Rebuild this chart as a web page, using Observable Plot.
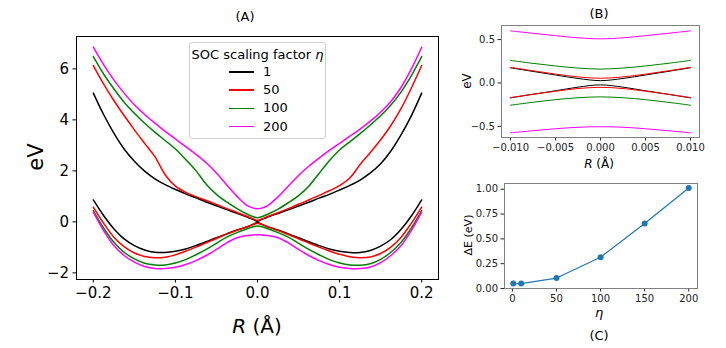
<!DOCTYPE html>
<html>
<head>
<meta charset="utf-8">
<script src="https://cdn.jsdelivr.net/npm/d3@7"></script>
<script src="https://cdn.jsdelivr.net/npm/@observablehq/plot@0.6"></script>
<style>
  html, body { margin: 0; padding: 0; background: #fff; }
  #wrap { position: relative; width: 726px; height: 348px; background: #fff; font-family: "DejaVu Sans", sans-serif; color: #000; overflow: hidden; }
  .lbl { position: absolute; white-space: nowrap; transform: translate(-50%, -50%); line-height: 1; }
  .rot { transform: translate(-50%, -50%) rotate(-90deg); }
</style>
</head>
<body>
<div id="wrap"></div>
<script>
// ---------- Panel A data (R in Å, energies in eV) ----------
const R_A = [-0.2, -0.1875, -0.175, -0.1625, -0.15, -0.1375, -0.125, -0.1125, -0.1, -0.0875, -0.075, -0.0625, -0.05, -0.0375, -0.025, -0.0125, -0.005, 0,
             0.005, 0.0125, 0.025, 0.0375, 0.05, 0.0625, 0.075, 0.0875, 0.1, 0.1125, 0.125, 0.1375, 0.15, 0.1625, 0.175, 0.1875, 0.2];
const upA_1   = [5.05, 4.21, 3.48, 2.86, 2.38, 1.99, 1.69, 1.46, 1.27, 1.10, 0.94, 0.78, 0.63, 0.48, 0.34, 0.19, 0.09, 0.027,
                 0.09, 0.19, 0.33, 0.47, 0.62, 0.77, 0.93, 1.08, 1.25, 1.43, 1.64, 1.92, 2.28, 2.78, 3.42, 4.17, 5.05];
const upA_50  = [6.13, 5.41, 4.76, 4.17, 3.61, 3.08, 2.56, 1.85, 1.40, 1.16, 0.99, 0.84, 0.68, 0.52, 0.37, 0.21, 0.11, 0.054,
                 0.11, 0.21, 0.36, 0.52, 0.69, 0.86, 1.04, 1.22, 1.42, 1.72, 2.25, 2.72, 3.22, 3.78, 4.45, 5.25, 6.13];
const upA_100 = [6.48, 5.80, 5.22, 4.69, 4.26, 3.87, 3.52, 3.19, 2.86, 2.45, 2.01, 1.48, 1.08, 0.78, 0.52, 0.30, 0.20, 0.16,
                 0.20, 0.30, 0.50, 0.75, 1.03, 1.40, 1.90, 2.40, 2.82, 3.14, 3.46, 3.80, 4.16, 4.58, 5.10, 5.74, 6.48];
const upA_200 = [6.85, 6.17, 5.57, 5.05, 4.59, 4.21, 3.87, 3.55, 3.25, 2.95, 2.65, 2.32, 1.92, 1.45, 1.00, 0.64, 0.54, 0.51,
                 0.54, 0.64, 0.98, 1.40, 1.82, 2.18, 2.50, 2.80, 3.08, 3.36, 3.64, 3.95, 4.30, 4.72, 5.28, 6.00, 6.85];
const loA_1   = [0.86, 0.25, -0.27, -0.67, -0.93, -1.10, -1.19, -1.20, -1.15, -1.06, -0.93, -0.78, -0.62, -0.47, -0.32, -0.19, -0.09, -0.027,
                 -0.09, -0.19, -0.32, -0.47, -0.62, -0.78, -0.93, -1.06, -1.15, -1.20, -1.20, -1.12, -0.95, -0.69, -0.29, 0.23, 0.86];
const loA_50  = [0.58, -0.05, -0.60, -0.97, -1.22, -1.36, -1.41, -1.39, -1.29, -1.15, -0.99, -0.82, -0.65, -0.48, -0.33, -0.19, -0.10, -0.054,
                 -0.10, -0.19, -0.34, -0.50, -0.66, -0.83, -0.99, -1.14, -1.27, -1.37, -1.41, -1.38, -1.24, -0.99, -0.60, -0.05, 0.58];
const loA_100 = [0.44, -0.24, -0.80, -1.19, -1.45, -1.62, -1.69, -1.69, -1.61, -1.48, -1.29, -1.08, -0.84, -0.60, -0.42, -0.27, -0.19, -0.16,
                 -0.19, -0.27, -0.42, -0.60, -0.84, -1.08, -1.29, -1.48, -1.61, -1.69, -1.70, -1.64, -1.47, -1.19, -0.80, -0.24, 0.44];
const loA_200 = [0.38, -0.34, -0.93, -1.32, -1.58, -1.75, -1.83, -1.83, -1.78, -1.67, -1.52, -1.32, -1.08, -0.82, -0.62, -0.53, -0.51, -0.51,
                 -0.51, -0.53, -0.62, -0.82, -1.08, -1.32, -1.52, -1.67, -1.78, -1.83, -1.83, -1.77, -1.60, -1.32, -0.93, -0.34, 0.38];

// ---------- Panel B data (zoom near R = 0) ----------
const R_B = [-0.01, -0.0075, -0.005, -0.0025, 0, 0.0025, 0.005, 0.0075, 0.01];
const upB_1   = [0.175, 0.133, 0.092, 0.052, 0.027, 0.052, 0.092, 0.133, 0.175];
const upB_50  = [0.180, 0.140, 0.102, 0.070, 0.054, 0.070, 0.102, 0.140, 0.180];
const upB_100 = [0.260, 0.226, 0.196, 0.172, 0.160, 0.172, 0.196, 0.226, 0.260];
const upB_200 = [0.600, 0.572, 0.545, 0.520, 0.508, 0.520, 0.545, 0.572, 0.600];
const loB_1   = [-0.172, -0.130, -0.090, -0.048, -0.022, -0.048, -0.090, -0.130, -0.172];
const loB_50  = [-0.168, -0.130, -0.095, -0.064, -0.050, -0.064, -0.095, -0.130, -0.168];
const loB_100 = [-0.256, -0.222, -0.192, -0.170, -0.160, -0.170, -0.192, -0.222, -0.256];
const loB_200 = [-0.574, -0.550, -0.527, -0.510, -0.504, -0.510, -0.527, -0.550, -0.574];

// ---------- Panel C data ----------
const etaC = [1, 10, 50, 100, 150, 200];
const dE_C = [0.05, 0.05, 0.105, 0.315, 0.655, 1.012];

// ---------- series / ticks ----------
const etas = [1, 50, 100, 200];
const palette = ["#000000", "#ff0000", "#008000", "#ff00ff"];
const ticksAx = [-0.2, -0.1, 0, 0.1, 0.2];
const ticksAy = [-2, 0, 2, 4, 6];
const ticksBx = [-0.01, -0.005, 0, 0.005, 0.01];
const ticksBy = [-0.5, 0, 0.5];
const ticksCx = [0, 50, 100, 150, 200];
const ticksCy = [0, 0.25, 0.5, 0.75, 1.0];

function rows(Rs, ups, los) {
  const out = [];
  etas.forEach((eta, i) => {
    ups[i].forEach((e, j) => out.push({R: Rs[j], E: e, eta, key: "u" + eta}));
    los[i].forEach((e, j) => out.push({R: Rs[j], E: e, eta, key: "l" + eta}));
  });
  return out;
}
const dataA = rows(R_A, [upA_1, upA_50, upA_100, upA_200], [loA_1, loA_50, loA_100, loA_200]);
const dataB = rows(R_B, [upB_1, upB_50, upB_100, upB_200], [loB_1, loB_50, loB_100, loB_200]);
const dataC = etaC.map((e, i) => ({eta: e, dE: dE_C[i]}));

const wrap = document.getElementById("wrap");
function place(node, left, top) {
  const d = document.createElement("div");
  d.style.position = "absolute";
  d.style.left = left + "px";
  d.style.top = top + "px";
  d.append(node);
  wrap.append(d);
}
function label(html, x, y, size, rotate) {
  const d = document.createElement("div");
  d.className = "lbl" + (rotate ? " rot" : "");
  d.style.left = x + "px";
  d.style.top = y + "px";
  d.style.fontSize = size + "px";
  d.innerHTML = html;
  wrap.append(d);
}
const colorScale = {domain: etas, range: palette};

// ---------- Panel A ----------
const plotA = Plot.plot({
  width: 460, height: 348,
  marginLeft: 76, marginRight: 22, marginTop: 36, marginBottom: 69,
  style: {fontFamily: "DejaVu Sans", fontSize: "15px", color: "#000", background: "transparent", overflow: "visible"},
  x: {domain: [-0.2205, 0.2205], ticks: ticksAx, tickFormat: d3.format(".1f"), tickSize: 3.5, tickPadding: 4, label: null},
  y: {domain: [-2.26, 7.27], ticks: ticksAy, tickFormat: d3.format("d"), tickSize: 3.5, tickPadding: 4, label: null},
  color: colorScale,
  marks: [
    Plot.line(dataA, {x: "R", y: "E", z: "key", stroke: "eta", strokeWidth: 1.5, curve: "catmull-rom"}),
    Plot.frame({stroke: "#000", strokeWidth: 1})
  ]
});
place(plotA, 0, 0);

// ---------- Panel B ----------
const plotB = Plot.plot({
  width: 286, height: 170,
  marginLeft: 61, marginRight: 27, marginTop: 25, marginBottom: 33,
  style: {fontFamily: "DejaVu Sans", fontSize: "10px", color: "#222", background: "transparent", overflow: "visible"},
  x: {domain: [-0.011, 0.011], ticks: ticksBx, tickFormat: d3.format(".3f"), tickSize: 3.5, tickPadding: 3, label: null},
  y: {domain: [-0.628, 0.662], ticks: ticksBy, tickFormat: d3.format(".1f"), tickSize: 3.5, tickPadding: 3, label: null},
  color: colorScale,
  marks: [
    Plot.line(dataB, {x: "R", y: "E", z: "key", stroke: "eta", strokeWidth: 1, curve: "catmull-rom"}),
    Plot.frame({stroke: "#808080", strokeWidth: 1})
  ]
});
place(plotB, 440, 0);

// ---------- Panel C ----------
const plotC = Plot.plot({
  width: 286, height: 178,
  marginLeft: 64, marginRight: 29, marginTop: 13, marginBottom: 60,
  style: {fontFamily: "DejaVu Sans", fontSize: "10px", color: "#222", background: "transparent", overflow: "visible"},
  x: {domain: [-8.95, 209.95], ticks: ticksCx, tickFormat: d3.format("d"), tickSize: 3.5, tickPadding: 3, label: null},
  y: {domain: [0.0, 1.058], ticks: ticksCy, tickFormat: d3.format(".2f"), tickSize: 3.5, tickPadding: 3, label: null},
  marks: [
    Plot.line(dataC, {x: "eta", y: "dE", stroke: "#1f77b4", strokeWidth: 1.2}),
    Plot.dot(dataC, {x: "eta", y: "dE", fill: "#1f77b4", r: 3}),
    Plot.frame({stroke: "#808080", strokeWidth: 1})
  ]
});
place(plotC, 440, 170);

// ---------- titles / axis labels ----------
label("(A)", 245, 16, 13);
label("eV", 36, 157, 21, true);
label("<i>R</i> (Å)", 257, 326, 20);
label("(B)", 599, 13, 13);
label("eV", 467, 81, 12, true);
label("<i>R</i> (Å)", 599, 164, 12);
label("ΔE (eV)", 468, 235, 11, true);
label("<i>η</i>", 599, 312, 13);
label("(C)", 599, 335, 13);

// ---------- legend for panel A ----------
const leg = document.createElement("div");
leg.style.cssText = "position:absolute;left:189px;top:42px;width:135px;height:95px;border:1px solid #d0d0d0;border-radius:3px;background:rgba(255,255,255,0.85);font-size:13px;";
const lt = document.createElement("div");
lt.style.cssText = "position:absolute;left:0;right:0;top:5px;text-align:center;white-space:nowrap;line-height:1;";
lt.innerHTML = "SOC scaling factor <i>η</i>";
leg.append(lt);
etas.forEach((eta, i) => {
  const yy = 29 + i * 18.2;
  const ln = document.createElement("div");
  ln.style.cssText = `position:absolute;left:39px;top:${yy - 0.75}px;width:25px;height:1.5px;background:${palette[i]};`;
  const tx = document.createElement("div");
  tx.style.cssText = `position:absolute;left:73px;top:${yy - 7}px;line-height:1;white-space:nowrap;`;
  tx.textContent = String(eta);
  leg.append(ln, tx);
});
wrap.append(leg);
</script>
</body>
</html>
